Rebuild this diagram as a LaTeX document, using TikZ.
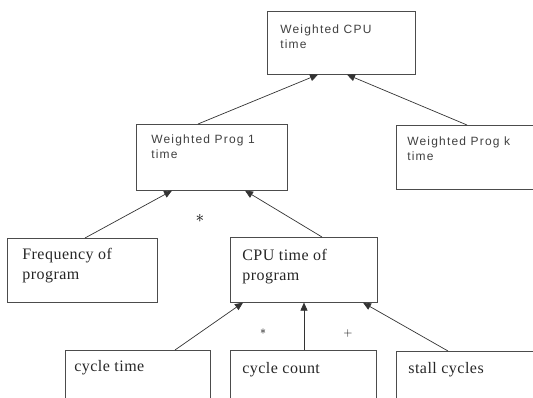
\documentclass[tikz,border=0pt]{standalone}
\usepackage{fontspec}
\usetikzlibrary{arrows.meta}
\newfontfamily\sansfnt[LetterSpace=10]{Liberation Sans}
\newfontfamily\seriffnt[LetterSpace=3]{Liberation Serif}
% box body: width, height, space above, left indent, text
\newcommand{\cell}[5]{\parbox[t][#2][t]{#1}{\leftskip=#4\relax\vspace*{#3}#5}}
\tikzset{
  box/.style={draw=black!70, line width=0.6pt, inner sep=0pt, anchor=north west},
  sansbox/.style={box, text=black!75, font=\sansfnt\fontsize{12}{15}\selectfont},
  serifbox/.style={box, text=black!85, font=\seriffnt\fontsize{16}{20}\selectfont},
  link/.style={draw=black!80, line width=0.7pt, -{Triangle[length=8pt,width=7pt]}},
  op/.style={inner sep=0pt, text=black},
}

\begin{document}
\begin{tikzpicture}[x=1pt,y=-1pt]
\useasboundingbox (0,0) rectangle (533,397);
% weighted times
\node[sansbox] (cpu) at (267,11) {\cell{148pt}{63pt}{13.3pt}{13pt}{Weighted CPU\\time}};
\node[sansbox] (prog1) at (136,124) {\cell{151pt}{66pt}{10.3pt}{15pt}{Weighted Prog 1\\time}};
\node[sansbox] (progk) at (396,125) {\cell{140pt}{64pt}{11.3pt}{11pt}{Weighted Prog k\\time}};
% program level
\node[serifbox] (freq) at (7,238) {\cell{150pt}{64pt}{10.1pt}{15pt}{Frequency of\\program}};
\node[serifbox] (cputime) at (230,237) {\cell{147pt}{65pt}{12.1pt}{12pt}{CPU time of\\program}};
% cycle level
\node[serifbox] (ctime) at (65,350) {\cell{145pt}{60pt}{10.1pt}{9pt}{cycle time}};
\node[serifbox] (ccount) at (230,350) {\cell{146pt}{60pt}{12.1pt}{12pt}{cycle count}};
\node[serifbox] (stall) at (396,351) {\cell{140pt}{60pt}{11.1pt}{12pt}{stall cycles}};

\node[op, font=\fontsize{18}{18}\selectfont] (mul1) at (200,218) {$\ast$};
\node[op, font=\fontsize{12}{12}\selectfont] (mul2) at (263,332) {$\ast$};
\node[op, font=\fontsize{13}{13}\selectfont] (add1) at (348,333) {$+$};

\draw[link] ([xshift=62pt]prog1.north west) -- ([xshift=51pt]cpu.south west);
\draw[link] ([xshift=71pt]progk.north west) -- ([xshift=80pt]cpu.south west);
\draw[link] ([xshift=78pt]freq.north west) -- ([xshift=36pt]prog1.south west);
\draw[link] ([xshift=92pt]cputime.north west) -- ([xshift=109pt]prog1.south west);
\draw[link] ([xshift=110pt]ctime.north west) -- ([xshift=13pt]cputime.south west);
\draw[link] ([xshift=74pt]ccount.north west) -- ([xshift=74pt]cputime.south west);
\draw[link] ([xshift=52pt]stall.north west) -- ([xshift=133pt]cputime.south west);
\end{tikzpicture}
\end{document}
